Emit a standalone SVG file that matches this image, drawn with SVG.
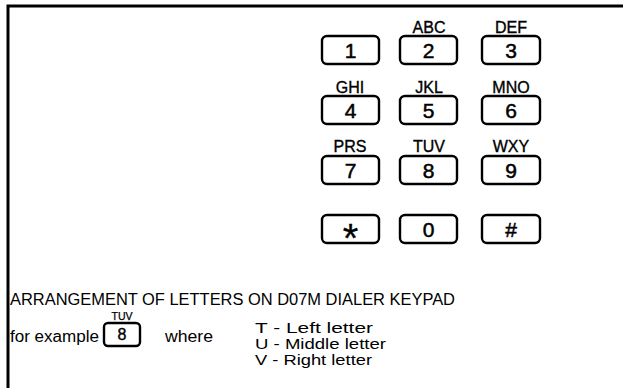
<svg xmlns="http://www.w3.org/2000/svg" width="623" height="388" viewBox="0 0 623 388">
<style>
.key{fill:none;stroke:#000;stroke-width:2.4;}
.dig{font-family:"Liberation Sans",Arial,sans-serif;font-size:21px;text-anchor:middle;fill:#000;stroke:#000;stroke-width:0.5;}
.let{font-family:"Liberation Sans",Arial,sans-serif;font-size:16px;text-anchor:middle;fill:#000;stroke:#000;stroke-width:0.35;}
.txt{font-family:"Liberation Sans",Arial,sans-serif;font-size:16px;fill:#000;}
.leg{font-family:"Liberation Sans",Arial,sans-serif;font-size:15px;fill:#000;}
</style>
<rect width="623" height="388" fill="#fff"/>
<g id="frame"><path d="M8,388 V6 H623" fill="none" stroke="#000" stroke-width="3"/></g>
<g id="k1"><rect class="key" x="322" y="36" width="57" height="28" rx="5"/><text class="dig" x="350.5" y="57.5">1</text></g>
<g id="k2"><text class="let" x="429" y="33">ABC</text><rect class="key" x="400" y="36" width="57" height="28" rx="5"/><text class="dig" x="428.5" y="57.5">2</text></g>
<g id="k3"><text class="let" x="511" y="33">DEF</text><rect class="key" x="482" y="36" width="58" height="28" rx="5"/><text class="dig" x="511" y="57.5">3</text></g>
<g id="k4"><text class="let" x="350" y="93">GHI</text><rect class="key" x="322" y="96" width="57" height="28" rx="5"/><text class="dig" x="350.5" y="117.5">4</text></g>
<g id="k5"><text class="let" x="429" y="93">JKL</text><rect class="key" x="400" y="96" width="57" height="28" rx="5"/><text class="dig" x="428.5" y="117.5">5</text></g>
<g id="k6"><text class="let" x="511" y="93">MNO</text><rect class="key" x="482" y="96" width="58" height="28" rx="5"/><text class="dig" x="511" y="117.5">6</text></g>
<g id="k7"><text class="let" x="350" y="152">PRS</text><rect class="key" x="322" y="156" width="57" height="28" rx="5"/><text class="dig" x="350.5" y="177.5">7</text></g>
<g id="k8"><text class="let" x="429" y="152">TUV</text><rect class="key" x="400" y="156" width="57" height="28" rx="5"/><text class="dig" x="428.5" y="177.5">8</text></g>
<g id="k9"><text class="let" x="511" y="152">WXY</text><rect class="key" x="482" y="156" width="58" height="28" rx="5"/><text class="dig" x="511" y="177.5">9</text></g>
<g id="kstar"><rect class="key" x="322" y="215" width="57" height="28" rx="5"/><text class="dig" x="350.5" y="252" style="font-size:40px;stroke-width:0.3">*</text></g>
<g id="k0"><rect class="key" x="400" y="215" width="57" height="28" rx="5"/><text class="dig" x="428.5" y="236.5">0</text></g>
<g id="khash"><rect class="key" x="482" y="215" width="58" height="28" rx="5"/><text class="dig" x="511" y="236.5">#</text></g>
<g id="caption">
<text class="txt" x="10" y="305" textLength="445" lengthAdjust="spacingAndGlyphs">ARRANGEMENT OF LETTERS ON D07M DIALER KEYPAD</text>
<text class="txt" x="10" y="342" textLength="89" lengthAdjust="spacingAndGlyphs">for example</text>
<text class="let" x="122" y="320" style="font-size:10.5px;stroke-width:0.25">TUV</text>
<rect class="key" x="104" y="323" width="36" height="23" rx="4"/>
<text class="dig" x="122" y="340" style="font-size:16px;stroke-width:0.4">8</text>
<text class="txt" x="165" y="342" textLength="48" lengthAdjust="spacingAndGlyphs">where</text>
<text class="leg" x="255" y="333" textLength="118" lengthAdjust="spacingAndGlyphs">T -  Left letter</text>
<text class="leg" x="255" y="349" textLength="131" lengthAdjust="spacingAndGlyphs">U - Middle letter</text>
<text class="leg" x="255" y="365" textLength="117" lengthAdjust="spacingAndGlyphs">V - Right letter</text>
</g>
</svg>
